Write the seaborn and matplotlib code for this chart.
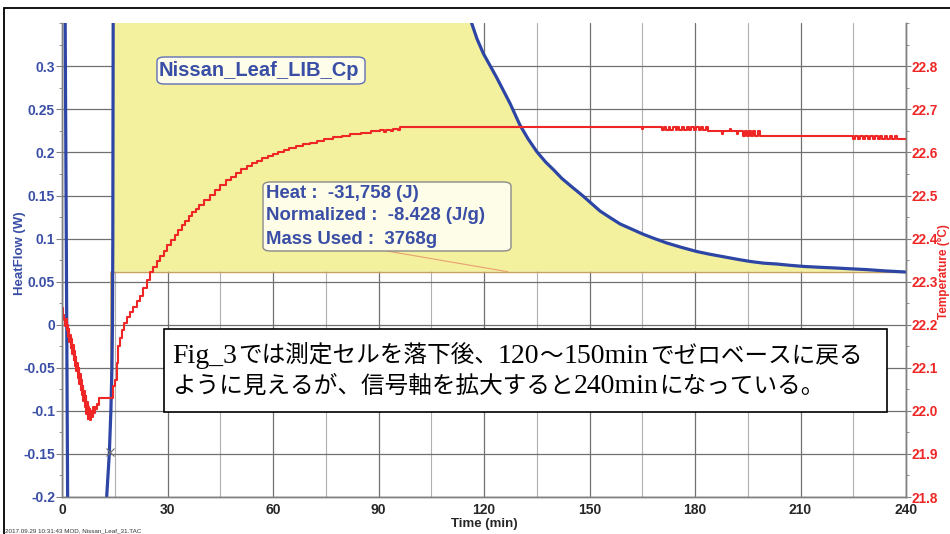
from itertools import groupby

import numpy as np
import pandas as pd
import matplotlib
matplotlib.use("Agg")
import matplotlib.pyplot as plt
import seaborn as sns
from matplotlib.patches import Rectangle, FancyBboxPatch
from matplotlib.ticker import MultipleLocator

# heat flow (W), values beyond the axis range are off-scale
hf_time = [0.0, 0.85, 1.65, 1.7, 12.5, 12.7, 13.45, 13.9, 14.2, 14.35, 14.45, 14.55, 14.6,
           116.3, 116.5, 118.0, 119.8, 121.7, 123.6, 125.5, 127.4, 130.2, 132.5, 135.0,
           137.5, 140.0, 142.1, 145.0, 148.0, 150.5, 153.0, 156.0, 158.7, 162.0, 165.3,
           168.5, 171.9, 176.0, 180.5, 184.0, 188.0, 192.0, 195.6, 199.5, 203.2, 207.0,
           210.8, 215.0, 219.3, 224.0, 228.8, 234.0, 240.0]
hf_vals = [1.5, 0.39, -0.24, -1.5, -1.5, -0.2, -0.15, -0.10, -0.05, 0.0, 0.10, 0.35, 1.5,
           1.5, 0.350, 0.332, 0.315, 0.301, 0.287, 0.272, 0.257, 0.232, 0.216, 0.201,
           0.189, 0.179, 0.170, 0.160, 0.150, 0.141, 0.132, 0.124, 0.117, 0.111, 0.105,
           0.100, 0.095, 0.090, 0.085, 0.082, 0.079, 0.076, 0.0735, 0.0715, 0.0705, 0.069,
           0.0677, 0.0668, 0.066, 0.065, 0.064, 0.0625, 0.0612]

# sample temperature (°C)
temp_time = [0.1, 0.4, 0.7, 0.9, 1.1, 1.3, 1.5, 1.7, 1.9, 2.1, 2.3, 2.5, 2.7, 2.9, 3.1, 3.3,
             3.5, 3.7, 3.9, 4.1, 4.3, 4.5, 4.7, 4.9, 5.1, 5.3, 5.5, 5.7, 5.9, 6.1, 6.3, 6.5,
             6.7, 6.9, 7.1, 7.3, 7.5, 7.7, 7.9, 8.1, 8.3, 8.5, 8.7, 9.0, 9.3, 9.6, 9.9, 10.3,
             10.6,
             13.9, 14.4, 15.0, 15.5, 16.0, 16.5, 17.0, 17.7, 18.4, 19.3, 20.3, 21.2, 22.2,
             23.1, 24.1, 25.0, 26.0, 27.0, 28.0, 29.0, 30.0, 31.0, 32.0, 33.0, 34.0, 35.0,
             36.0, 37.0, 38.0, 39.0, 40.5, 42.0, 43.5, 45.0, 46.5, 48.0, 49.5, 51.0, 52.5,
             54.0, 55.5, 57.0, 58.5, 60.0, 61.5, 63.0, 64.5, 66.5, 68.5, 70.5, 72.5, 74.5,
             77.0, 79.5, 82.0, 85.0, 88.0, 90.5, 91.5, 92.0, 93.5, 94.0, 95.5, 96.0,
             164.5, 164.8, 165.2,
             170.5, 171.2, 171.8, 172.5, 173.0, 173.8, 174.5, 175.0, 175.5, 176.2, 177.0,
             177.6, 178.2, 179.0, 179.6, 180.3, 181.0, 181.6, 182.3, 183.0, 183.8,
             187.6, 187.9, 190.0, 190.3, 192.0, 192.3,
             193.6, 194.2, 194.8, 195.4, 196.0, 196.6, 197.2, 197.8, 198.4,
             225.0, 225.6, 226.3, 227.0, 227.7, 228.4, 229.1, 229.8, 230.5, 231.2, 231.9,
             232.6, 233.3, 234.0, 234.7, 235.4, 236.1, 236.8, 237.5, 240.0]
temp_vals = [22.239, 22.222, 22.212, 22.196, 22.214, 22.188, 22.200, 22.172, 22.190, 22.160,
             22.176, 22.146, 22.168, 22.132, 22.152, 22.118, 22.140, 22.104, 22.126, 22.092,
             22.112, 22.076, 22.100, 22.062, 22.086, 22.048, 22.072, 22.036, 22.058, 22.022,
             22.046, 22.008, 22.034, 21.992, 22.020, 21.982, 22.010, 21.980, 22.004, 21.978,
             22.000, 21.986, 22.008, 21.994, 22.010, 22.004, 22.016, 22.014, 22.030,
             22.030, 22.057, 22.072, 22.110, 22.150, 22.170, 22.188, 22.205, 22.219, 22.230,
             22.242, 22.254, 22.266, 22.285, 22.304, 22.323, 22.335, 22.347, 22.359, 22.372,
             22.384, 22.396, 22.408, 22.420, 22.431, 22.442, 22.452, 22.461, 22.469, 22.478,
             22.490, 22.502, 22.513, 22.524, 22.535, 22.544, 22.553, 22.561, 22.568, 22.575,
             22.581, 22.587, 22.592, 22.597, 22.602, 22.606, 22.610, 22.615, 22.619, 22.623,
             22.627, 22.631, 22.635, 22.639, 22.643, 22.646, 22.649, 22.652, 22.648, 22.653,
             22.650, 22.655, 22.652, 22.660,
             22.660, 22.655, 22.660,
             22.651, 22.660, 22.651, 22.660, 22.651, 22.660, 22.651, 22.660, 22.651, 22.660,
             22.651, 22.660, 22.651, 22.660, 22.651, 22.660, 22.651, 22.660, 22.651, 22.660,
             22.649,
             22.644, 22.649, 22.655, 22.649, 22.644, 22.649,
             22.639, 22.649, 22.639, 22.649, 22.639, 22.649, 22.639, 22.649, 22.639,
             22.631, 22.639, 22.631, 22.639, 22.631, 22.639, 22.631, 22.639, 22.631, 22.639,
             22.631, 22.639, 22.631, 22.639, 22.631, 22.639, 22.631, 22.639, 22.631, 22.631]

# integration settings shown by the instrument software
baseline_hf = 0.0615
peak_start = 14.45
limit_time = 13.9
limit_low = -0.08

hf_ticks = [-0.2, -0.15, -0.1, -0.05, 0, 0.05, 0.1, 0.15, 0.2, 0.25, 0.3]
hf_labels = ["-0.2", "-0.15", "-0.1", "-0.05", "0", "0.05", "0.1", "0.15", "0.2", "0.25", "0.3"]
temp_ticks = [21.8, 21.9, 22.0, 22.1, 22.2, 22.3, 22.4, 22.5, 22.6, 22.7, 22.8]
temp_labels = ["21.8", "21.9", "22.0", "22.1", "22.2", "22.3", "22.4", "22.5", "22.6", "22.7", "22.8"]
time_ticks = [0, 30, 60, 90, 120, 150, 180, 210, 240]

sample_name = "Nissan_Leaf_LIB_Cp"
result_lines = ["Heat :  -31,758 (J)", "Normalized :  -8.428 (J/g)", "Mass Used :  3768g"]
note_lines = ["Fig_3では測定セルを落下後、120〜150minでゼロベースに戻る",
              "ように見えるが、信号軸を拡大すると240minになっている。"]
footer = "2017.09.29 10:31:43 MOD, Nissan_Leaf_31.TAC"

BLUE = "#2d46a5"
LBLUE = "#3a4ea6"
RED = "#ee2626"
YELLOW = "#f3f09e"
TAN = "#c9a060"

sns.set_style("white")
plt.rcParams["font.family"] = ["Liberation Sans", "Noto Sans CJK JP", "DejaVu Sans"]

W, H = 950, 534
fig = plt.figure(figsize=(W / 100, H / 100), dpi=100)


def fx(x):
    return x / W


def fy(y):
    return 1 - y / H


ax = fig.add_axes([fx(62), fy(497), (906 - 62) / W, (497 - 23) / H])
ax2 = ax.twinx()

hf = pd.DataFrame({"time": hf_time, "hf": hf_vals})
tp = pd.DataFrame({"time": temp_time, "temp": temp_vals})

# integrated peak area
t = np.array(hf_time)
ax.fill_between(hf["time"], baseline_hf, hf["hf"], where=t >= peak_start,
                color=YELLOW, lw=0, zorder=2)
ax.plot([peak_start, 240], [baseline_hf, baseline_hf], color=TAN, lw=1.0, zorder=2.5)
ax.plot([limit_time, limit_time], [limit_low, baseline_hf], color=TAN, lw=1.2, zorder=2.5)

sns.lineplot(data=hf, x="time", y="hf", ax=ax, color=BLUE, lw=2.3,
             estimator=None, sort=False, zorder=3)
ax.plot([13.65], [-0.148], marker="x", ms=6, color="#707070", mew=0.8, zorder=4)

sns.lineplot(data=tp, x="time", y="temp", ax=ax2, color=RED, lw=1.5,
             estimator=None, sort=False, drawstyle="steps-post")

ax.set_xlim(0, 240)
ax.set_ylim(-0.2, 0.3503)
ax2.set_ylim(21.8, 22.9006)

ax.set_xticks(time_ticks)
ax.set_xticklabels([str(v) for v in time_ticks], fontweight="bold", fontsize=10)
ax.xaxis.set_minor_locator(MultipleLocator(15))
ax.set_yticks(hf_ticks)
ax.set_yticklabels(hf_labels, fontweight="bold", fontsize=10, color=LBLUE)
ax.yaxis.set_minor_locator(MultipleLocator(0.025))
ax2.set_yticks(temp_ticks)
ax2.set_yticklabels(temp_labels, fontweight="bold", fontsize=9.8, color=RED)
ax2.yaxis.set_minor_locator(MultipleLocator(0.05))

ax.grid(which="major", color="#707070", lw=0.9, zorder=1)
ax.grid(which="minor", axis="x", color="#b0b0b0", lw=0.8, zorder=1)
ax.set_axisbelow(True)

for a in (ax, ax2):
    a.spines["top"].set_visible(False)
    for s in ("left", "right", "bottom"):
        a.spines[s].set_color("#808080")
        a.spines[s].set_linewidth(1.0)
ax.tick_params(axis="y", which="major", length=4, color="#808080", pad=1)
ax.tick_params(axis="y", which="minor", length=2.5, color="#808080")
ax.tick_params(axis="x", which="both", length=0, pad=4)
ax2.tick_params(axis="y", which="major", length=3.5, color="#808080", pad=0.5)
ax2.tick_params(axis="y", which="minor", length=2.5, color="#808080")

ax.set_xlabel("Time (min)", fontweight="bold", fontsize=9.5, labelpad=1)
ax.set_ylabel("HeatFlow (W)", fontweight="bold", fontsize=9.5, color=LBLUE)
ax.yaxis.set_label_coords(-0.043, 0.515)
ax2.set_ylabel("Temperature (°C)", fontweight="bold", fontsize=8.5, color=RED)
ax2.yaxis.set_label_coords(1.038, 0.475)

# leader line from results box to baseline
ax.plot([92.1, 126.8], [0.0858, baseline_hf], color="#e8a070", lw=0.8, zorder=2.6)

# sample name box
fig.patches.append(FancyBboxPatch((fx(157), fy(84)), (365 - 157) / W, (84 - 57) / H,
                                  boxstyle="round,pad=0,rounding_size=0.008",
                                  transform=fig.transFigure, facecolor="#fdfdea",
                                  edgecolor="#6070b8", lw=1.0))
fig.text(fx(259), fy(70.5), sample_name, ha="center", va="center", fontsize=14.5,
         fontweight="bold", color=LBLUE)

# results box
fig.patches.append(FancyBboxPatch((fx(263), fy(251)), (511 - 263) / W, (251 - 182) / H,
                                  boxstyle="round,pad=0,rounding_size=0.008",
                                  transform=fig.transFigure, facecolor="#fdfde8",
                                  edgecolor="#8a8a8a", lw=1.0))
for i, line in enumerate(result_lines):
    fig.text(fx(266), fy(193 + 23 * i), line, ha="left", va="center", fontsize=13.4,
             fontweight="bold", color=LBLUE)

# note box: latin in a serif face, japanese in the CJK face, placed run by run
fig.patches.append(Rectangle((fx(164), fy(412)), (887 - 164) / W, (412 - 329) / H,
                             transform=fig.transFigure, facecolor="white",
                             edgecolor="black", lw=1.2))
renderer = fig.canvas.get_renderer()
LATIN_PT, CJK_PT = 20.0, 17.0
for i, line in enumerate(note_lines):
    x = 172
    for latin, chars in groupby(line, key=lambda c: c.isascii()):
        run = "".join(chars)
        txt = fig.text(fx(x), fy(363 + 30 * i), run, ha="left", va="baseline",
                       fontsize=LATIN_PT if latin else CJK_PT,
                       family="Liberation Serif" if latin else "Noto Sans CJK JP",
                       color="black")
        if latin:
            x += txt.get_window_extent(renderer).width + 1
        else:
            # full-width glyphs advance one em each
            x += len(run) * CJK_PT * fig.dpi / 72

fig.text(fx(5), fy(531), footer, fontsize=4.5, va="center", color="#333333")

# outer frame
fig.patches.append(Rectangle((fx(4), -0.1), 1.0, fy(8) + 0.1, transform=fig.transFigure,
                             fill=False, edgecolor="black", lw=1.3))

fig.savefig("out.png", dpi=100)
